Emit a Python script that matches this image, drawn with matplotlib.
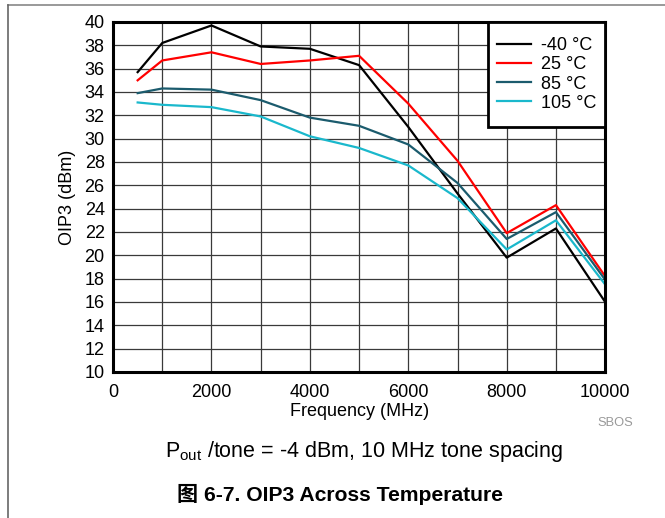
import numpy as np
import matplotlib
matplotlib.use("Agg")
import matplotlib.pyplot as plt
from matplotlib.lines import Line2D
from matplotlib.patches import Rectangle

plt.rcParams['font.family'] = ['Liberation Sans', 'Noto Sans CJK SC', 'DejaVu Sans']
plt.rcParams['mathtext.fontset'] = 'custom'
plt.rcParams['mathtext.rm'] = 'Liberation Sans'
plt.rcParams['mathtext.it'] = 'Liberation Sans'

# frequency points (MHz)
freq = [500, 1000, 2000, 3000, 4000, 5000, 6000, 7000, 8000, 9000, 10000]

# OIP3 (dBm) per temperature
oip3_m40 = [35.7, 38.2, 39.7, 37.9, 37.7, 36.3, 31.0, 25.3, 19.8, 22.3, 16.0]
oip3_25 = [35.0, 36.7, 37.4, 36.4, 36.7, 37.1, 33.0, 28.1, 21.9, 24.3, 18.2]
oip3_85 = [33.9, 34.3, 34.2, 33.3, 31.8, 31.1, 29.5, 26.2, 21.4, 23.7, 17.9]
oip3_105 = [33.1, 32.9, 32.7, 31.9, 30.2, 29.2, 27.7, 24.9, 20.5, 23.0, 17.5]

labels = ['-40 °C', '25 °C', '85 °C', '105 °C']
colors = ['#000000', '#ff0000', '#1b5b6d', '#1ab8cc']

fig = plt.figure(figsize=(6.65, 5.18), dpi=100)
ax = fig.add_axes([0.170, 0.2819, 0.740, 0.6757])

for y, lab, c in zip([oip3_m40, oip3_25, oip3_85, oip3_105], labels, colors):
    ax.plot(freq, y, color=c, lw=1.6, label=lab, zorder=3)

ax.set_xlim(0, 10000)
ax.set_ylim(10, 40)
ax.set_xticks(np.arange(0, 10001, 2000))
ax.set_xticks(np.arange(0, 10001, 1000), minor=True)
ax.set_yticks(np.arange(10, 41, 2))
ax.grid(True, which='both', color='#3a3a3a', lw=0.9, zorder=1)
ax.tick_params(which='both', length=0, labelsize=13)
ax.tick_params(axis='x', pad=9)
ax.tick_params(axis='y', pad=6)
for s in ax.spines.values():
    s.set_linewidth(2.2)
    s.set_zorder(4)

ax.set_xlabel('Frequency (MHz)', fontsize=13, labelpad=1)
ax.set_ylabel('OIP3 (dBm)', fontsize=13, labelpad=6)

# legend box drawn separately so its padding matches the original
box = (0.762, 0.70, 0.238, 0.30)
ax.add_patch(Rectangle(box[:2], box[2], box[3], transform=ax.transAxes,
                       facecolor='white', edgecolor='black', lw=2,
                       zorder=5, clip_on=False))
leg = ax.legend(loc='center', bbox_to_anchor=box, fontsize=13,
                frameon=False, borderaxespad=0, borderpad=0,
                handlelength=1.9, handletextpad=0.55, labelspacing=0.12)
leg.set_zorder(6)

fig.text(615 / 665, 1 - 423 / 518, 'SBOS', color='#999999', fontsize=9.3,
         ha='center', va='center')
fig.text(364 / 665, 1 - 452 / 518, r'P$_{\mathrm{out}}$ /tone = -4 dBm, 10 MHz tone spacing',
         fontsize=15.5, ha='center', va='center')
fig.text(340 / 665, 1 - 494 / 518, '图 6-7. OIP3 Across Temperature',
         fontsize=15.2, fontweight='bold', ha='center', va='center')

# page frame lines
fig.add_artist(Line2D([8 / 665, 1.0], [1 - 5 / 518, 1 - 5 / 518], color='#888888', lw=1.2))
fig.add_artist(Line2D([8 / 665, 8 / 665], [0, 1 - 5 / 518], color='#666666', lw=1.2))

fig.savefig('out.png', dpi=100)
